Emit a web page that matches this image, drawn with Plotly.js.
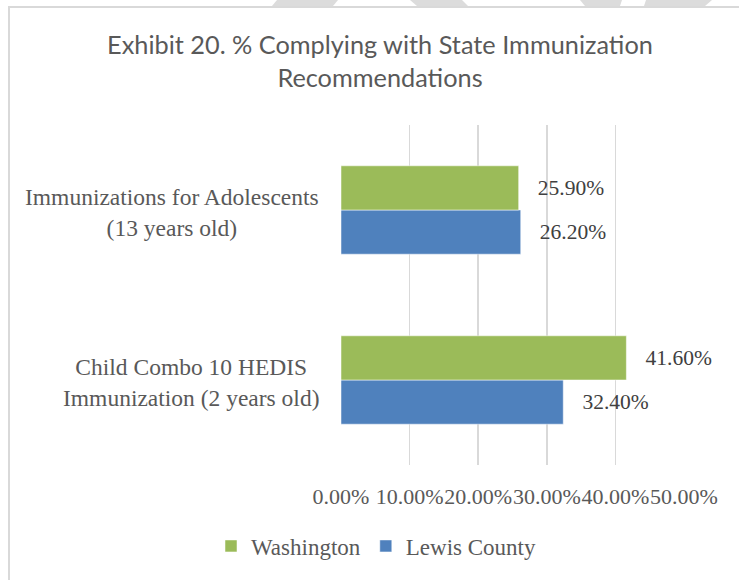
<!DOCTYPE html>
<html>
<head>
<meta charset="utf-8">
<script src="https://cdn.plot.ly/plotly-3.0.1.min.js"></script>
<style>html,body{margin:0;padding:0;background:#fff;}#chart{width:739px;height:580px;}</style>
</head>
<body>
<div id="chart"></div>
<script>
// ---- data ----
const categories = ["Child Combo 10 HEDIS<br>Immunization (2 years old)", "Immunizations for Adolescents<br>(13 years old)"];
const seriesNames = ["Lewis County", "Washington"];
const lewisCounty = [0.324, 0.262];
const washington = [0.416, 0.259];
const tickValues = [0, 0.1, 0.2, 0.3, 0.4, 0.5];
const tickLabels = ["0.00%", "10.00%", "20.00%", "30.00%", "40.00%", "50.00%"];
const titleText = "Exhibit 20. % Complying with State Immunization<br>Recommendations";

// ---- layout constants (pixels) ----
const W = 739, H = 580;
const PL = 341, PR = 684, PT = 125, PB = 465;
const px = v => (v - PL) / (PR - PL);
const py = v => (PB - v) / (PB - PT);

const serif = "Liberation Serif, Times New Roman, serif";
const fmt = v => "\u00a0\u00a0\u00a0" + (v * 100).toFixed(2) + "%";

const traces = [
  {type: "bar", orientation: "h", name: seriesNames[0], y: categories, x: lewisCounty,
   marker: {color: "#4F81BD", line: {color: "rgba(255,255,255,0.5)", width: 1}},
   text: lewisCounty.map(fmt), textposition: "outside", cliponaxis: false,
   textfont: {family: serif, size: 21.5, color: "#404040"}, hoverinfo: "skip"},
  {type: "bar", orientation: "h", name: seriesNames[1], y: categories, x: washington,
   marker: {color: "#9BBB59", line: {color: "rgba(255,255,255,0.5)", width: 1}},
   text: washington.map(fmt), textposition: "outside", cliponaxis: false,
   textfont: {family: serif, size: 21.5, color: "#404040"}, hoverinfo: "skip"}
];

const watermark = [
  [[277,0],[338,0],[333,6],[272,6]],
  [[410,0],[462,0],[468,6],[417,6]],
  [[580,0],[622,0],[620,6],[585,6]],
  [[646,0],[712,0],[705,6],[644,6]]
];
const shapes = watermark.map(pts => ({
  type: "path", xref: "paper", yref: "paper", layer: "below",
  path: "M" + pts.map(p => px(p[0]) + "," + py(p[1])).join("L") + "Z",
  fillcolor: "#dcdcdc", line: {width: 0}
}));
shapes.push({type: "line", xref: "paper", yref: "paper", x0: px(9), x1: px(9), y0: py(7), y1: py(580), line: {color: "#d9d9d9", width: 2}});
shapes.push({type: "line", xref: "paper", yref: "paper", x0: px(8), x1: px(739), y0: py(7), y1: py(7), line: {color: "#d9d9d9", width: 2}});

const annotations = categories.map(c => ({
  xref: "paper", yref: "y", x: 0, y: c, xanchor: "right", yanchor: "middle",
  xshift: -20, yshift: -2, text: c, showarrow: false, align: "center",
  font: {family: serif, size: 23.5, color: "#595959"}
}));

const layout = {
  width: W, height: H,
  margin: {l: PL, r: W - PR, t: PT, b: H - PB, pad: 0},
  paper_bgcolor: "#ffffff", plot_bgcolor: "#ffffff",
  title: {text: titleText, x: 380 / W, xanchor: "center", xref: "container",
          y: 1 - 54 / H, yanchor: "top", yref: "container",
          font: {family: "Lato, Open Sans, sans-serif", size: 25.3, color: "#595959"}},
  barmode: "group", bargap: 0.48, bargroupgap: 0,
  xaxis: {range: [0, 0.5], tickvals: tickValues, ticktext: tickLabels, showgrid: true,
          gridcolor: "#d9d9d9", gridwidth: 1.5, zeroline: false, showline: false, ticks: "",
          tickangle: 0, ticklabelstandoff: 16, ticklabeloverflow: "allow",
          tickfont: {family: serif, size: 22, color: "#595959"}, fixedrange: true},
  yaxis: {type: "category", categoryorder: "array", categoryarray: categories,
          showticklabels: false, showgrid: false, zeroline: false, showline: false, ticks: "", fixedrange: true},
  showlegend: true,
  legend: {orientation: "h", traceorder: "reversed", x: px(376), xanchor: "center",
           y: py(546), yanchor: "middle", font: {family: serif, size: 23, color: "#595959"},
           bgcolor: "rgba(0,0,0,0)"},
  shapes: shapes, annotations: annotations
};

Plotly.newPlot("chart", traces, layout, {staticPlot: true, displayModeBar: false});
</script>
</body>
</html>
